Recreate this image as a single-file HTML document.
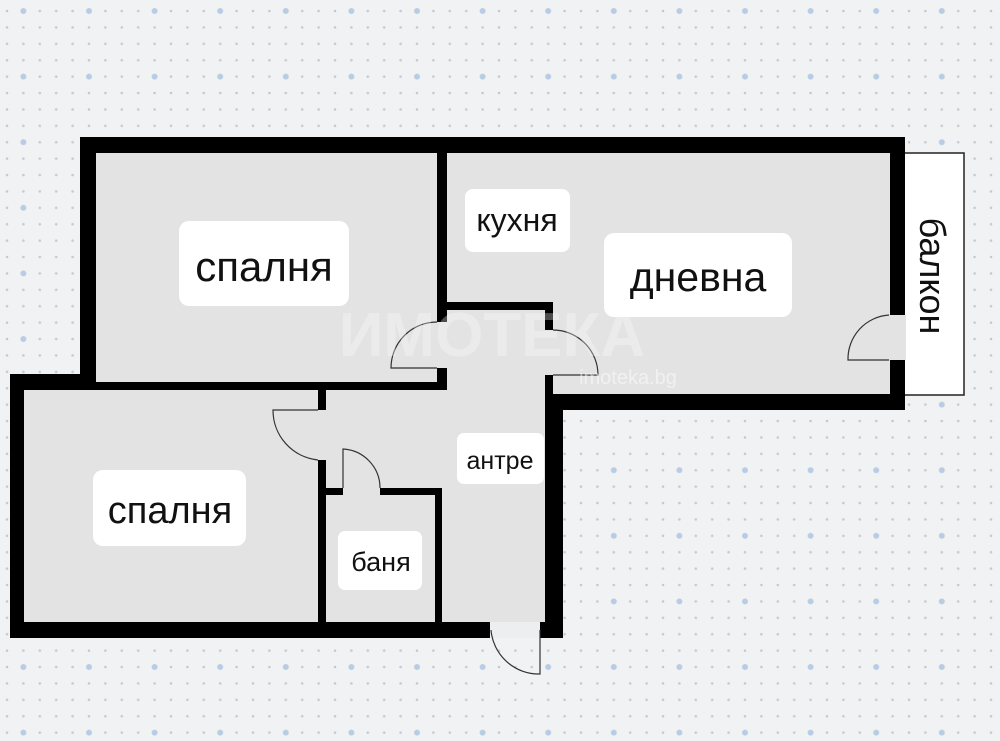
<!DOCTYPE html>
<html><head><meta charset="utf-8"><style>
html,body{margin:0;padding:0;background:#f1f2f3;}
svg{display:block}
text{font-family:"Liberation Sans","DejaVu Sans",sans-serif;fill:#111}
</style></head><body>
<svg width="1000" height="741" viewBox="0 0 1000 741" xmlns="http://www.w3.org/2000/svg">
<defs>
<pattern id="d" x="7" y="11" width="16.4" height="16.4" patternUnits="userSpaceOnUse">
<circle cx="0" cy="0" r="1.3" fill="#c4cad2"/><circle cx="16.4" cy="0" r="1.3" fill="#c4cad2"/><circle cx="0" cy="16.4" r="1.3" fill="#c4cad2"/><circle cx="16.4" cy="16.4" r="1.3" fill="#c4cad2"/>
</pattern>
<pattern id="b" x="23.4" y="11" width="65.6" height="65.6" patternUnits="userSpaceOnUse">
<circle cx="0" cy="0" r="3" fill="#b8cde3"/><circle cx="65.6" cy="0" r="3" fill="#b8cde3"/><circle cx="0" cy="65.6" r="3" fill="#b8cde3"/><circle cx="65.6" cy="65.6" r="3" fill="#b8cde3"/>
</pattern>
</defs>
<rect width="1000" height="741" fill="#f1f2f3"/>
<rect width="1000" height="741" fill="url(#d)"/>
<rect width="1000" height="741" fill="url(#b)"/>
<rect x="896" y="153" width="68" height="242" fill="#fff" stroke="#222" stroke-width="1.5"/>
<path d="M80 137 H905 V410 H563 V638 H10 V374 H80 Z" fill="#000"/>
<rect x="96" y="153" width="341" height="229" fill="#e3e3e3"/>
<rect x="447" y="153" width="443" height="149" fill="#e3e3e3"/>
<rect x="553" y="302" width="337" height="92" fill="#e3e3e3"/>
<rect x="447" y="310" width="98" height="84" fill="#e3e3e3"/>
<rect x="24" y="390" width="294" height="232" fill="#e3e3e3"/>
<rect x="326" y="390" width="219" height="98" fill="#e3e3e3"/>
<rect x="442" y="488" width="103" height="134" fill="#e3e3e3"/>
<rect x="326" y="495" width="109" height="127" fill="#e3e3e3"/>
<rect x="437" y="322" width="10" height="46" fill="#e3e3e3"/>
<rect x="545" y="330" width="8" height="45" fill="#e3e3e3"/>
<rect x="318" y="410" width="8" height="50" fill="#e3e3e3"/>
<rect x="343" y="488" width="37" height="7" fill="#e3e3e3"/>
<rect x="889" y="315" width="17" height="45" fill="#e3e3e3"/>
<rect x="490" y="622" width="50" height="16" fill="#eceeef"/>
<g fill="none" stroke="#333" stroke-width="1.2">
<path d="M437 322 A46 46 0 0 0 391 368 H437"/>
<path d="M553 330 A45 45 0 0 1 598 375 H553"/>
<path d="M318 410 H273 A50 50 0 0 0 318 460"/>
<path d="M343 488 V449 A39 39 0 0 1 380 488"/>
<path d="M889 315 A44 44 0 0 0 848 360 H889"/>
<path d="M540 630 V674 A48 48 0 0 1 491 630"/>
</g>
<text x="492" y="356" font-size="62" font-weight="bold" text-anchor="middle" style="fill:#fff;opacity:0.3">ИМОТЕКА</text>
<text x="628" y="384" font-size="20" text-anchor="middle" style="fill:#fff;opacity:0.5">imoteka.bg</text>
<rect x="179" y="221" width="170" height="85" rx="10" fill="#fff"/>
<text x="264" y="281" font-size="42" text-anchor="middle">спалня</text>
<rect x="465" y="189" width="105" height="63" rx="8" fill="#fff"/>
<text x="517" y="231" font-size="32" text-anchor="middle">кухня</text>
<rect x="604" y="233" width="188" height="84" rx="10" fill="#fff"/>
<text x="698" y="291" font-size="41" text-anchor="middle">дневна</text>
<rect x="93" y="470" width="153" height="76" rx="10" fill="#fff"/>
<text x="170" y="523" font-size="38" text-anchor="middle">спалня</text>
<rect x="457" y="433" width="87" height="51" rx="7" fill="#fff"/>
<text x="500" y="469" font-size="25" text-anchor="middle">антре</text>
<rect x="338" y="531" width="84" height="59" rx="7" fill="#fff"/>
<text x="381" y="571" font-size="27" text-anchor="middle">баня</text>
<text x="0" y="0" font-size="36" text-anchor="middle" transform="translate(920 276) rotate(90)">балкон</text>
</svg>
</body></html>
